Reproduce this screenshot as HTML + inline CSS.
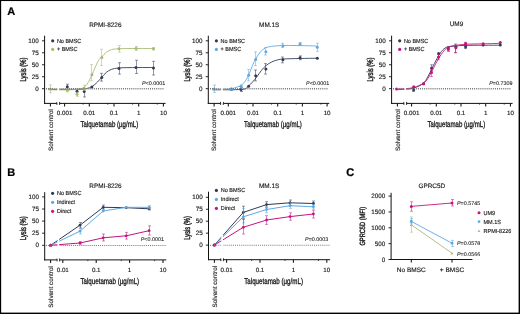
<!DOCTYPE html><html><head><meta charset="utf-8"><style>html,body{margin:0;padding:0;background:#fff;width:520px;height:314px;overflow:hidden}svg{display:block;will-change:transform;text-rendering:geometricPrecision}</style></head><body><svg width="520" height="314" viewBox="0 0 520 314" font-family='"Liberation Sans", sans-serif'>
<rect x="0" y="0" width="520" height="314" fill="#fff"/>
<text x="7.20" y="15.20" font-size="11.0" text-anchor="start" fill="#000" font-weight="bold" stroke="#000" stroke-width="0.2">A</text>
<text x="7.20" y="176.00" font-size="11.0" text-anchor="start" fill="#000" font-weight="bold" stroke="#000" stroke-width="0.2">B</text>
<text x="346.30" y="176.30" font-size="11.0" text-anchor="start" fill="#000" font-weight="bold" stroke="#000" stroke-width="0.25">C</text>
<text x="105.30" y="26.60" font-size="6.4" text-anchor="middle" fill="#1a1a1a" stroke="#1a1a1a" stroke-width="0.15">RPMI-8226</text>
<line x1="44.60" y1="35.70" x2="44.60" y2="103.90" stroke="#111" stroke-width="1" />
<line x1="42.00" y1="88.70" x2="44.60" y2="88.70" stroke="#111" stroke-width="0.9" />
<text x="38.80" y="90.80" font-size="6.3" text-anchor="end" fill="#1a1a1a" stroke="#1a1a1a" stroke-width="0.15">0</text>
<line x1="42.00" y1="76.72" x2="44.60" y2="76.72" stroke="#111" stroke-width="0.9" />
<text x="38.80" y="78.82" font-size="6.3" text-anchor="end" fill="#1a1a1a" stroke="#1a1a1a" stroke-width="0.15">25</text>
<line x1="42.00" y1="64.75" x2="44.60" y2="64.75" stroke="#111" stroke-width="0.9" />
<text x="38.80" y="66.85" font-size="6.3" text-anchor="end" fill="#1a1a1a" stroke="#1a1a1a" stroke-width="0.15">50</text>
<line x1="42.00" y1="52.77" x2="44.60" y2="52.77" stroke="#111" stroke-width="0.9" />
<text x="38.80" y="54.88" font-size="6.3" text-anchor="end" fill="#1a1a1a" stroke="#1a1a1a" stroke-width="0.15">75</text>
<line x1="42.00" y1="40.80" x2="44.60" y2="40.80" stroke="#111" stroke-width="0.9" />
<text x="38.80" y="42.90" font-size="6.3" text-anchor="end" fill="#1a1a1a" stroke="#1a1a1a" stroke-width="0.15">100</text>
<text x="25.90" y="69.55" font-size="8.6" text-anchor="middle" fill="#1a1a1a" stroke="#1a1a1a" stroke-width="0.42" textLength="23.8" lengthAdjust="spacingAndGlyphs" transform="rotate(-90 25.90 69.55)">Lysis (%)</text>
<line x1="44.10" y1="103.40" x2="56.90" y2="103.40" stroke="#111" stroke-width="1" />
<line x1="59.60" y1="103.40" x2="165.60" y2="103.40" stroke="#111" stroke-width="1" />
<line x1="56.90" y1="101.90" x2="56.90" y2="104.90" stroke="#111" stroke-width="0.9" />
<line x1="59.60" y1="101.90" x2="59.60" y2="104.90" stroke="#111" stroke-width="0.9" />
<line x1="50.40" y1="103.40" x2="50.40" y2="106.40" stroke="#111" stroke-width="1.05" />
<line x1="64.60" y1="103.40" x2="64.60" y2="106.40" stroke="#111" stroke-width="1.05" />
<text x="64.60" y="115.00" font-size="6.2" text-anchor="middle" fill="#1a1a1a" stroke="#1a1a1a" stroke-width="0.15">0.001</text>
<line x1="83.12" y1="103.40" x2="83.12" y2="104.70" stroke="#111" stroke-width="0.7" />
<line x1="89.30" y1="103.40" x2="89.30" y2="106.40" stroke="#111" stroke-width="1.05" />
<text x="89.30" y="115.00" font-size="6.2" text-anchor="middle" fill="#1a1a1a" stroke="#1a1a1a" stroke-width="0.15">0.01</text>
<line x1="107.82" y1="103.40" x2="107.82" y2="104.70" stroke="#111" stroke-width="0.7" />
<line x1="114.00" y1="103.40" x2="114.00" y2="106.40" stroke="#111" stroke-width="1.05" />
<text x="114.00" y="115.00" font-size="6.2" text-anchor="middle" fill="#1a1a1a" stroke="#1a1a1a" stroke-width="0.15">0.1</text>
<line x1="132.53" y1="103.40" x2="132.53" y2="104.70" stroke="#111" stroke-width="0.7" />
<line x1="138.70" y1="103.40" x2="138.70" y2="106.40" stroke="#111" stroke-width="1.05" />
<text x="138.70" y="115.00" font-size="6.2" text-anchor="middle" fill="#1a1a1a" stroke="#1a1a1a" stroke-width="0.15">1</text>
<line x1="157.22" y1="103.40" x2="157.22" y2="104.70" stroke="#111" stroke-width="0.7" />
<line x1="163.40" y1="103.40" x2="163.40" y2="106.40" stroke="#111" stroke-width="1.05" />
<text x="163.40" y="115.00" font-size="6.2" text-anchor="middle" fill="#1a1a1a" stroke="#1a1a1a" stroke-width="0.15">10</text>
<text x="80.40" y="127.40" font-size="8.4" text-anchor="start" fill="#1a1a1a" stroke="#1a1a1a" stroke-width="0.32" textLength="57.8" lengthAdjust="spacingAndGlyphs">Talquetamab (µg/mL)</text>
<text x="52.70" y="130.00" font-size="6.3" text-anchor="middle" fill="#1a1a1a" stroke="#1a1a1a" stroke-width="0.15" textLength="42.0" lengthAdjust="spacingAndGlyphs" transform="rotate(-90 52.70 130.00)">Solvent control</text>
<text x="142.00" y="84.60" font-size="5.4" text-anchor="start" fill="#1a1a1a" stroke="#1a1a1a" stroke-width="0.08"><tspan font-style="italic">P</tspan>&lt;0.0001</text>
<circle cx="52.70" cy="40.80" r="1.6" fill="#303a57"/>
<text x="56.90" y="42.80" font-size="5.9" text-anchor="start" fill="#1a1a1a" stroke="#1a1a1a" stroke-width="0.15" textLength="24.449390625" lengthAdjust="spacingAndGlyphs">No BMSC</text>
<circle cx="52.70" cy="49.40" r="1.6" fill="#a6ba72"/>
<text x="56.90" y="51.40" font-size="5.9" text-anchor="start" fill="#1a1a1a" stroke="#1a1a1a" stroke-width="0.15" textLength="20.630499999999998" lengthAdjust="spacingAndGlyphs">+ BMSC</text>
<path d="M49.00,89.50 C54.17,89.45 73.52,89.42 80.00,89.20 C86.48,88.98 85.85,88.67 87.90,88.20 C89.95,87.73 90.70,87.43 92.30,86.40 C93.90,85.37 95.90,83.55 97.50,82.00 C99.10,80.45 100.43,78.70 101.90,77.10 C103.37,75.50 104.70,73.68 106.30,72.40 C107.90,71.12 109.47,70.13 111.50,69.40 C113.53,68.67 115.42,68.30 118.50,68.00 C121.58,67.70 124.17,67.68 130.00,67.60 C135.83,67.52 149.58,67.52 153.50,67.50" fill="none" stroke="#303a57" stroke-width="1.0" stroke-opacity="0.88" stroke-linecap="round"/>
<path d="M67.50,84.20V90.00M66.00,84.20H69.00M66.00,90.00H69.00" stroke="#303a57" stroke-width="0.8" stroke-opacity="0.65" fill="none"/>
<circle cx="67.30" cy="86.80" r="1.5" fill="#303a57"/>
<circle cx="77.00" cy="91.20" r="1.5" fill="#303a57"/>
<path d="M84.50,88.50V97.00M83.00,88.50H86.00M83.00,97.00H86.00" stroke="#303a57" stroke-width="0.8" stroke-opacity="0.65" fill="none"/>
<circle cx="84.20" cy="91.60" r="1.5" fill="#303a57"/>
<circle cx="91.90" cy="87.00" r="1.5" fill="#303a57"/>
<path d="M101.50,73.30V81.10M100.00,73.30H103.00M100.00,81.10H103.00" stroke="#303a57" stroke-width="0.8" stroke-opacity="0.65" fill="none"/>
<circle cx="101.80" cy="77.60" r="1.5" fill="#303a57"/>
<path d="M119.50,62.70V74.10M118.00,62.70H121.00M118.00,74.10H121.00" stroke="#303a57" stroke-width="0.8" stroke-opacity="0.65" fill="none"/>
<circle cx="119.00" cy="68.40" r="1.5" fill="#303a57"/>
<path d="M136.50,60.20V73.50M135.00,60.20H138.00M135.00,73.50H138.00" stroke="#303a57" stroke-width="0.8" stroke-opacity="0.65" fill="none"/>
<circle cx="136.00" cy="67.40" r="1.5" fill="#303a57"/>
<path d="M153.50,61.30V75.00M152.00,61.30H155.00M152.00,75.00H155.00" stroke="#303a57" stroke-width="0.8" stroke-opacity="0.65" fill="none"/>
<circle cx="153.50" cy="68.00" r="1.5" fill="#303a57"/>
<path d="M49.00,89.80 C52.50,89.80 64.83,89.97 70.00,89.80 C75.17,89.63 77.60,89.28 80.00,88.80 C82.40,88.32 83.08,87.88 84.40,86.90 C85.72,85.92 86.65,84.88 87.90,82.90 C89.15,80.92 90.73,77.48 91.90,75.00 C93.07,72.52 93.82,70.38 94.90,68.00 C95.98,65.62 97.23,62.60 98.40,60.70 C99.57,58.80 100.58,58.00 101.90,56.60 C103.22,55.20 104.70,53.47 106.30,52.30 C107.90,51.13 109.47,50.18 111.50,49.60 C113.53,49.02 115.42,48.98 118.50,48.80 C121.58,48.62 124.17,48.55 130.00,48.50 C135.83,48.45 149.58,48.50 153.50,48.50" fill="none" stroke="#a6ba72" stroke-width="1.0" stroke-opacity="0.88" stroke-linecap="round"/>
<path d="M50.50,84.90V92.80M49.00,84.90H52.00M49.00,92.80H52.00" stroke="#a6ba72" stroke-width="0.8" stroke-opacity="0.65" fill="none"/>
<circle cx="50.40" cy="89.00" r="1.5" fill="#a6ba72"/>
<path d="M67.50,88.50V92.00M66.00,88.50H69.00M66.00,92.00H69.00" stroke="#a6ba72" stroke-width="0.8" stroke-opacity="0.65" fill="none"/>
<circle cx="67.30" cy="90.20" r="1.5" fill="#a6ba72"/>
<path d="M77.50,92.30V96.30M76.00,92.30H79.00M76.00,96.30H79.00" stroke="#a6ba72" stroke-width="0.8" stroke-opacity="0.65" fill="none"/>
<circle cx="77.00" cy="94.20" r="1.5" fill="#a6ba72"/>
<path d="M84.50,85.20V90.60M83.00,85.20H86.00M83.00,90.60H86.00" stroke="#a6ba72" stroke-width="0.8" stroke-opacity="0.65" fill="none"/>
<circle cx="84.20" cy="88.30" r="1.5" fill="#a6ba72"/>
<path d="M91.50,64.60V80.80M90.00,64.60H93.00M90.00,80.80H93.00" stroke="#a6ba72" stroke-width="0.8" stroke-opacity="0.65" fill="none"/>
<circle cx="91.90" cy="74.70" r="1.5" fill="#a6ba72"/>
<path d="M101.50,49.30V65.50M100.00,49.30H103.00M100.00,65.50H103.00" stroke="#a6ba72" stroke-width="0.8" stroke-opacity="0.65" fill="none"/>
<circle cx="101.80" cy="57.50" r="1.5" fill="#a6ba72"/>
<path d="M119.50,45.50V52.20M118.00,45.50H121.00M118.00,52.20H121.00" stroke="#a6ba72" stroke-width="0.8" stroke-opacity="0.65" fill="none"/>
<circle cx="119.00" cy="48.70" r="1.5" fill="#a6ba72"/>
<path d="M136.50,46.50V50.30M135.00,46.50H138.00M135.00,50.30H138.00" stroke="#a6ba72" stroke-width="0.8" stroke-opacity="0.65" fill="none"/>
<circle cx="136.00" cy="48.40" r="1.5" fill="#a6ba72"/>
<path d="M153.50,47.60V49.90M152.00,47.60H155.00M152.00,49.90H155.00" stroke="#a6ba72" stroke-width="0.8" stroke-opacity="0.65" fill="none"/>
<circle cx="153.50" cy="48.70" r="1.5" fill="#a6ba72"/>
<path d="M46.00,88.00h1v1.4h-1zM48.08,88.00h1v1.4h-1zM50.16,88.00h1v1.4h-1zM52.24,88.00h1v1.4h-1zM54.32,88.00h1v1.4h-1zM56.40,88.00h1v1.4h-1zM58.48,88.00h1v1.4h-1zM60.56,88.00h1v1.4h-1zM62.64,88.00h1v1.4h-1zM64.72,88.00h1v1.4h-1zM66.80,88.00h1v1.4h-1zM68.88,88.00h1v1.4h-1zM70.96,88.00h1v1.4h-1zM73.04,88.00h1v1.4h-1zM75.12,88.00h1v1.4h-1zM77.20,88.00h1v1.4h-1zM79.28,88.00h1v1.4h-1zM81.36,88.00h1v1.4h-1zM83.44,88.00h1v1.4h-1zM85.52,88.00h1v1.4h-1zM87.60,88.00h1v1.4h-1zM89.68,88.00h1v1.4h-1zM91.76,88.00h1v1.4h-1zM93.84,88.00h1v1.4h-1zM95.92,88.00h1v1.4h-1zM98.00,88.00h1v1.4h-1zM100.08,88.00h1v1.4h-1zM102.16,88.00h1v1.4h-1zM104.24,88.00h1v1.4h-1zM106.32,88.00h1v1.4h-1zM108.40,88.00h1v1.4h-1zM110.48,88.00h1v1.4h-1zM112.56,88.00h1v1.4h-1zM114.64,88.00h1v1.4h-1zM116.72,88.00h1v1.4h-1zM118.80,88.00h1v1.4h-1zM120.88,88.00h1v1.4h-1zM122.96,88.00h1v1.4h-1zM125.04,88.00h1v1.4h-1zM127.12,88.00h1v1.4h-1zM129.20,88.00h1v1.4h-1zM131.28,88.00h1v1.4h-1zM133.36,88.00h1v1.4h-1zM135.44,88.00h1v1.4h-1zM137.52,88.00h1v1.4h-1zM139.60,88.00h1v1.4h-1zM141.68,88.00h1v1.4h-1zM143.76,88.00h1v1.4h-1zM145.84,88.00h1v1.4h-1zM147.92,88.00h1v1.4h-1zM150.00,88.00h1v1.4h-1zM152.08,88.00h1v1.4h-1zM154.16,88.00h1v1.4h-1zM156.24,88.00h1v1.4h-1zM158.32,88.00h1v1.4h-1zM160.40,88.00h1v1.4h-1zM162.48,88.00h1v1.4h-1z" fill="#777"/>
<rect x="57.40" y="76.70" width="1.70" height="26.10" fill="#fff"/>
<text x="269.20" y="26.60" font-size="6.4" text-anchor="middle" fill="#1a1a1a" stroke="#1a1a1a" stroke-width="0.15">MM.1S</text>
<line x1="208.30" y1="35.70" x2="208.30" y2="103.90" stroke="#111" stroke-width="1" />
<line x1="205.70" y1="88.70" x2="208.30" y2="88.70" stroke="#111" stroke-width="0.9" />
<text x="202.50" y="90.80" font-size="6.3" text-anchor="end" fill="#1a1a1a" stroke="#1a1a1a" stroke-width="0.15">0</text>
<line x1="205.70" y1="76.72" x2="208.30" y2="76.72" stroke="#111" stroke-width="0.9" />
<text x="202.50" y="78.82" font-size="6.3" text-anchor="end" fill="#1a1a1a" stroke="#1a1a1a" stroke-width="0.15">25</text>
<line x1="205.70" y1="64.75" x2="208.30" y2="64.75" stroke="#111" stroke-width="0.9" />
<text x="202.50" y="66.85" font-size="6.3" text-anchor="end" fill="#1a1a1a" stroke="#1a1a1a" stroke-width="0.15">50</text>
<line x1="205.70" y1="52.77" x2="208.30" y2="52.77" stroke="#111" stroke-width="0.9" />
<text x="202.50" y="54.88" font-size="6.3" text-anchor="end" fill="#1a1a1a" stroke="#1a1a1a" stroke-width="0.15">75</text>
<line x1="205.70" y1="40.80" x2="208.30" y2="40.80" stroke="#111" stroke-width="0.9" />
<text x="202.50" y="42.90" font-size="6.3" text-anchor="end" fill="#1a1a1a" stroke="#1a1a1a" stroke-width="0.15">100</text>
<text x="189.60" y="69.55" font-size="8.6" text-anchor="middle" fill="#1a1a1a" stroke="#1a1a1a" stroke-width="0.42" textLength="23.8" lengthAdjust="spacingAndGlyphs" transform="rotate(-90 189.60 69.55)">Lysis (%)</text>
<line x1="207.80" y1="103.40" x2="220.60" y2="103.40" stroke="#111" stroke-width="1" />
<line x1="223.30" y1="103.40" x2="329.30" y2="103.40" stroke="#111" stroke-width="1" />
<line x1="220.60" y1="101.90" x2="220.60" y2="104.90" stroke="#111" stroke-width="0.9" />
<line x1="223.30" y1="101.90" x2="223.30" y2="104.90" stroke="#111" stroke-width="0.9" />
<line x1="214.10" y1="103.40" x2="214.10" y2="106.40" stroke="#111" stroke-width="1.05" />
<line x1="228.30" y1="103.40" x2="228.30" y2="106.40" stroke="#111" stroke-width="1.05" />
<text x="228.30" y="115.00" font-size="6.2" text-anchor="middle" fill="#1a1a1a" stroke="#1a1a1a" stroke-width="0.15">0.001</text>
<line x1="246.83" y1="103.40" x2="246.83" y2="104.70" stroke="#111" stroke-width="0.7" />
<line x1="253.00" y1="103.40" x2="253.00" y2="106.40" stroke="#111" stroke-width="1.05" />
<text x="253.00" y="115.00" font-size="6.2" text-anchor="middle" fill="#1a1a1a" stroke="#1a1a1a" stroke-width="0.15">0.01</text>
<line x1="271.52" y1="103.40" x2="271.52" y2="104.70" stroke="#111" stroke-width="0.7" />
<line x1="277.70" y1="103.40" x2="277.70" y2="106.40" stroke="#111" stroke-width="1.05" />
<text x="277.70" y="115.00" font-size="6.2" text-anchor="middle" fill="#1a1a1a" stroke="#1a1a1a" stroke-width="0.15">0.1</text>
<line x1="296.22" y1="103.40" x2="296.22" y2="104.70" stroke="#111" stroke-width="0.7" />
<line x1="302.40" y1="103.40" x2="302.40" y2="106.40" stroke="#111" stroke-width="1.05" />
<text x="302.40" y="115.00" font-size="6.2" text-anchor="middle" fill="#1a1a1a" stroke="#1a1a1a" stroke-width="0.15">1</text>
<line x1="320.92" y1="103.40" x2="320.92" y2="104.70" stroke="#111" stroke-width="0.7" />
<line x1="327.10" y1="103.40" x2="327.10" y2="106.40" stroke="#111" stroke-width="1.05" />
<text x="327.10" y="115.00" font-size="6.2" text-anchor="middle" fill="#1a1a1a" stroke="#1a1a1a" stroke-width="0.15">10</text>
<text x="244.10" y="127.40" font-size="8.4" text-anchor="start" fill="#1a1a1a" stroke="#1a1a1a" stroke-width="0.32" textLength="57.8" lengthAdjust="spacingAndGlyphs">Talquetamab (µg/mL)</text>
<text x="216.40" y="130.00" font-size="6.3" text-anchor="middle" fill="#1a1a1a" stroke="#1a1a1a" stroke-width="0.15" textLength="42.0" lengthAdjust="spacingAndGlyphs" transform="rotate(-90 216.40 130.00)">Solvent control</text>
<text x="306.10" y="84.60" font-size="5.4" text-anchor="start" fill="#1a1a1a" stroke="#1a1a1a" stroke-width="0.08"><tspan font-style="italic">P</tspan>&lt;0.0001</text>
<circle cx="216.40" cy="40.80" r="1.6" fill="#303a57"/>
<text x="220.60" y="42.80" font-size="5.9" text-anchor="start" fill="#1a1a1a" stroke="#1a1a1a" stroke-width="0.15" textLength="24.449390625" lengthAdjust="spacingAndGlyphs">No BMSC</text>
<circle cx="216.40" cy="49.40" r="1.6" fill="#5ea9e3"/>
<text x="220.60" y="51.40" font-size="5.9" text-anchor="start" fill="#1a1a1a" stroke="#1a1a1a" stroke-width="0.15" textLength="20.630499999999998" lengthAdjust="spacingAndGlyphs">+ BMSC</text>
<path d="M213.00,89.80 C217.83,89.73 236.15,89.97 242.00,89.40 C247.85,88.83 246.35,87.63 248.10,86.40 C249.85,85.17 251.03,83.60 252.50,82.00 C253.97,80.40 255.43,78.70 256.90,76.80 C258.37,74.90 259.85,72.42 261.30,70.60 C262.75,68.78 263.85,67.35 265.60,65.90 C267.35,64.45 269.60,62.95 271.80,61.90 C274.00,60.85 276.62,60.10 278.80,59.60 C280.98,59.10 281.37,59.08 284.90,58.90 C288.43,58.72 294.60,58.62 300.00,58.50 C305.40,58.38 314.42,58.25 317.30,58.20" fill="none" stroke="#303a57" stroke-width="1.0" stroke-opacity="0.88" stroke-linecap="round"/>
<circle cx="231.40" cy="89.30" r="1.5" fill="#303a57"/>
<path d="M241.50,87.50V91.50M240.00,87.50H243.00M240.00,91.50H243.00" stroke="#303a57" stroke-width="0.8" stroke-opacity="0.65" fill="none"/>
<circle cx="241.00" cy="89.50" r="1.5" fill="#303a57"/>
<circle cx="248.60" cy="86.20" r="1.5" fill="#303a57"/>
<path d="M255.50,70.00V80.90M254.00,70.00H257.00M254.00,80.90H257.00" stroke="#303a57" stroke-width="0.8" stroke-opacity="0.65" fill="none"/>
<circle cx="255.70" cy="75.70" r="1.5" fill="#303a57"/>
<path d="M265.50,63.60V74.10M264.00,63.60H267.00M264.00,74.10H267.00" stroke="#303a57" stroke-width="0.8" stroke-opacity="0.65" fill="none"/>
<circle cx="265.90" cy="69.00" r="1.5" fill="#303a57"/>
<path d="M282.50,57.00V62.80M281.00,57.00H284.00M281.00,62.80H284.00" stroke="#303a57" stroke-width="0.8" stroke-opacity="0.65" fill="none"/>
<circle cx="282.90" cy="59.70" r="1.5" fill="#303a57"/>
<path d="M300.50,55.90V59.70M299.00,55.90H302.00M299.00,59.70H302.00" stroke="#303a57" stroke-width="0.8" stroke-opacity="0.65" fill="none"/>
<circle cx="300.00" cy="57.80" r="1.5" fill="#303a57"/>
<circle cx="317.30" cy="58.20" r="1.5" fill="#303a57"/>
<path d="M213.00,89.50 C215.83,89.45 226.33,89.52 230.00,89.20 C233.67,88.88 233.28,88.15 235.00,87.60 C236.72,87.05 238.70,86.83 240.30,85.90 C241.90,84.97 243.20,83.82 244.60,82.00 C246.00,80.18 247.38,77.77 248.70,75.00 C250.02,72.23 251.28,68.17 252.50,65.40 C253.72,62.63 254.68,60.65 256.00,58.40 C257.32,56.15 258.80,53.65 260.40,51.90 C262.00,50.15 263.42,48.87 265.60,47.90 C267.78,46.93 270.28,46.50 273.50,46.10 C276.72,45.70 280.48,45.58 284.90,45.50 C289.32,45.42 294.60,45.52 300.00,45.60 C305.40,45.68 314.42,45.93 317.30,46.00" fill="none" stroke="#5ea9e3" stroke-width="1.0" stroke-opacity="0.88" stroke-linecap="round"/>
<path d="M214.50,85.00V92.40M213.00,85.00H216.00M213.00,92.40H216.00" stroke="#5ea9e3" stroke-width="0.8" stroke-opacity="0.65" fill="none"/>
<circle cx="214.10" cy="89.10" r="1.5" fill="#5ea9e3"/>
<path d="M231.50,88.00V90.00M230.00,88.00H233.00M230.00,90.00H233.00" stroke="#5ea9e3" stroke-width="0.8" stroke-opacity="0.65" fill="none"/>
<circle cx="231.40" cy="89.00" r="1.5" fill="#5ea9e3"/>
<path d="M241.50,85.00V87.50M240.00,85.00H243.00M240.00,87.50H243.00" stroke="#5ea9e3" stroke-width="0.8" stroke-opacity="0.65" fill="none"/>
<circle cx="241.00" cy="86.20" r="1.5" fill="#5ea9e3"/>
<path d="M248.50,69.40V80.90M247.00,69.40H250.00M247.00,80.90H250.00" stroke="#5ea9e3" stroke-width="0.8" stroke-opacity="0.65" fill="none"/>
<circle cx="248.60" cy="75.20" r="1.5" fill="#5ea9e3"/>
<path d="M255.50,51.80V65.60M254.00,51.80H257.00M254.00,65.60H257.00" stroke="#5ea9e3" stroke-width="0.8" stroke-opacity="0.65" fill="none"/>
<circle cx="255.70" cy="59.50" r="1.5" fill="#5ea9e3"/>
<path d="M265.50,47.40V55.00M264.00,47.40H267.00M264.00,55.00H267.00" stroke="#5ea9e3" stroke-width="0.8" stroke-opacity="0.65" fill="none"/>
<circle cx="265.90" cy="51.80" r="1.5" fill="#5ea9e3"/>
<path d="M282.50,43.20V47.50M281.00,43.20H284.00M281.00,47.50H284.00" stroke="#5ea9e3" stroke-width="0.8" stroke-opacity="0.65" fill="none"/>
<circle cx="282.90" cy="45.80" r="1.5" fill="#5ea9e3"/>
<path d="M300.50,42.60V45.20M299.00,42.60H302.00M299.00,45.20H302.00" stroke="#5ea9e3" stroke-width="0.8" stroke-opacity="0.65" fill="none"/>
<circle cx="300.00" cy="44.00" r="1.5" fill="#5ea9e3"/>
<path d="M317.50,43.20V51.30M316.00,43.20H319.00M316.00,51.30H319.00" stroke="#5ea9e3" stroke-width="0.8" stroke-opacity="0.65" fill="none"/>
<circle cx="317.30" cy="47.20" r="1.5" fill="#5ea9e3"/>
<path d="M210.00,88.00h1v1.4h-1zM212.08,88.00h1v1.4h-1zM214.16,88.00h1v1.4h-1zM216.24,88.00h1v1.4h-1zM218.32,88.00h1v1.4h-1zM220.40,88.00h1v1.4h-1zM222.48,88.00h1v1.4h-1zM224.56,88.00h1v1.4h-1zM226.64,88.00h1v1.4h-1zM228.72,88.00h1v1.4h-1zM230.80,88.00h1v1.4h-1zM232.88,88.00h1v1.4h-1zM234.96,88.00h1v1.4h-1zM237.04,88.00h1v1.4h-1zM239.12,88.00h1v1.4h-1zM241.20,88.00h1v1.4h-1zM243.28,88.00h1v1.4h-1zM245.36,88.00h1v1.4h-1zM247.44,88.00h1v1.4h-1zM249.52,88.00h1v1.4h-1zM251.60,88.00h1v1.4h-1zM253.68,88.00h1v1.4h-1zM255.76,88.00h1v1.4h-1zM257.84,88.00h1v1.4h-1zM259.92,88.00h1v1.4h-1zM262.00,88.00h1v1.4h-1zM264.08,88.00h1v1.4h-1zM266.16,88.00h1v1.4h-1zM268.24,88.00h1v1.4h-1zM270.32,88.00h1v1.4h-1zM272.40,88.00h1v1.4h-1zM274.48,88.00h1v1.4h-1zM276.56,88.00h1v1.4h-1zM278.64,88.00h1v1.4h-1zM280.72,88.00h1v1.4h-1zM282.80,88.00h1v1.4h-1zM284.88,88.00h1v1.4h-1zM286.96,88.00h1v1.4h-1zM289.04,88.00h1v1.4h-1zM291.12,88.00h1v1.4h-1zM293.20,88.00h1v1.4h-1zM295.28,88.00h1v1.4h-1zM297.36,88.00h1v1.4h-1zM299.44,88.00h1v1.4h-1zM301.52,88.00h1v1.4h-1zM303.60,88.00h1v1.4h-1zM305.68,88.00h1v1.4h-1zM307.76,88.00h1v1.4h-1zM309.84,88.00h1v1.4h-1zM311.92,88.00h1v1.4h-1zM314.00,88.00h1v1.4h-1zM316.08,88.00h1v1.4h-1zM318.16,88.00h1v1.4h-1zM320.24,88.00h1v1.4h-1zM322.32,88.00h1v1.4h-1zM324.40,88.00h1v1.4h-1zM326.48,88.00h1v1.4h-1z" fill="#777"/>
<rect x="221.10" y="76.70" width="1.70" height="26.10" fill="#fff"/>
<text x="456.50" y="26.00" font-size="6.4" text-anchor="middle" fill="#1a1a1a" stroke="#1a1a1a" stroke-width="0.15">UM9</text>
<line x1="391.60" y1="35.70" x2="391.60" y2="103.90" stroke="#111" stroke-width="1" />
<line x1="389.00" y1="88.70" x2="391.60" y2="88.70" stroke="#111" stroke-width="0.9" />
<text x="385.80" y="90.80" font-size="6.3" text-anchor="end" fill="#1a1a1a" stroke="#1a1a1a" stroke-width="0.15">0</text>
<line x1="389.00" y1="76.72" x2="391.60" y2="76.72" stroke="#111" stroke-width="0.9" />
<text x="385.80" y="78.82" font-size="6.3" text-anchor="end" fill="#1a1a1a" stroke="#1a1a1a" stroke-width="0.15">25</text>
<line x1="389.00" y1="64.75" x2="391.60" y2="64.75" stroke="#111" stroke-width="0.9" />
<text x="385.80" y="66.85" font-size="6.3" text-anchor="end" fill="#1a1a1a" stroke="#1a1a1a" stroke-width="0.15">50</text>
<line x1="389.00" y1="52.77" x2="391.60" y2="52.77" stroke="#111" stroke-width="0.9" />
<text x="385.80" y="54.88" font-size="6.3" text-anchor="end" fill="#1a1a1a" stroke="#1a1a1a" stroke-width="0.15">75</text>
<line x1="389.00" y1="40.80" x2="391.60" y2="40.80" stroke="#111" stroke-width="0.9" />
<text x="385.80" y="42.90" font-size="6.3" text-anchor="end" fill="#1a1a1a" stroke="#1a1a1a" stroke-width="0.15">100</text>
<text x="372.90" y="69.55" font-size="8.6" text-anchor="middle" fill="#1a1a1a" stroke="#1a1a1a" stroke-width="0.42" textLength="23.8" lengthAdjust="spacingAndGlyphs" transform="rotate(-90 372.90 69.55)">Lysis (%)</text>
<line x1="391.10" y1="103.40" x2="403.90" y2="103.40" stroke="#111" stroke-width="1" />
<line x1="406.60" y1="103.40" x2="512.60" y2="103.40" stroke="#111" stroke-width="1" />
<line x1="403.90" y1="101.90" x2="403.90" y2="104.90" stroke="#111" stroke-width="0.9" />
<line x1="406.60" y1="101.90" x2="406.60" y2="104.90" stroke="#111" stroke-width="0.9" />
<line x1="397.40" y1="103.40" x2="397.40" y2="106.40" stroke="#111" stroke-width="1.05" />
<line x1="411.60" y1="103.40" x2="411.60" y2="106.40" stroke="#111" stroke-width="1.05" />
<text x="411.60" y="115.00" font-size="6.2" text-anchor="middle" fill="#1a1a1a" stroke="#1a1a1a" stroke-width="0.15">0.001</text>
<line x1="430.12" y1="103.40" x2="430.12" y2="104.70" stroke="#111" stroke-width="0.7" />
<line x1="436.30" y1="103.40" x2="436.30" y2="106.40" stroke="#111" stroke-width="1.05" />
<text x="436.30" y="115.00" font-size="6.2" text-anchor="middle" fill="#1a1a1a" stroke="#1a1a1a" stroke-width="0.15">0.01</text>
<line x1="454.82" y1="103.40" x2="454.82" y2="104.70" stroke="#111" stroke-width="0.7" />
<line x1="461.00" y1="103.40" x2="461.00" y2="106.40" stroke="#111" stroke-width="1.05" />
<text x="461.00" y="115.00" font-size="6.2" text-anchor="middle" fill="#1a1a1a" stroke="#1a1a1a" stroke-width="0.15">0.1</text>
<line x1="479.52" y1="103.40" x2="479.52" y2="104.70" stroke="#111" stroke-width="0.7" />
<line x1="485.70" y1="103.40" x2="485.70" y2="106.40" stroke="#111" stroke-width="1.05" />
<text x="485.70" y="115.00" font-size="6.2" text-anchor="middle" fill="#1a1a1a" stroke="#1a1a1a" stroke-width="0.15">1</text>
<line x1="504.23" y1="103.40" x2="504.23" y2="104.70" stroke="#111" stroke-width="0.7" />
<line x1="510.40" y1="103.40" x2="510.40" y2="106.40" stroke="#111" stroke-width="1.05" />
<text x="510.40" y="115.00" font-size="6.2" text-anchor="middle" fill="#1a1a1a" stroke="#1a1a1a" stroke-width="0.15">10</text>
<text x="427.40" y="127.40" font-size="8.4" text-anchor="start" fill="#1a1a1a" stroke="#1a1a1a" stroke-width="0.32" textLength="57.8" lengthAdjust="spacingAndGlyphs">Talquetamab (µg/mL)</text>
<text x="399.70" y="130.00" font-size="6.3" text-anchor="middle" fill="#1a1a1a" stroke="#1a1a1a" stroke-width="0.15" textLength="42.0" lengthAdjust="spacingAndGlyphs" transform="rotate(-90 399.70 130.00)">Solvent control</text>
<text x="489.20" y="84.60" font-size="5.4" text-anchor="start" fill="#1a1a1a" stroke="#1a1a1a" stroke-width="0.08"><tspan font-style="italic">P</tspan>=0.7309</text>
<circle cx="399.70" cy="40.80" r="1.6" fill="#303a57"/>
<text x="403.90" y="42.80" font-size="5.9" text-anchor="start" fill="#1a1a1a" stroke="#1a1a1a" stroke-width="0.15" textLength="24.449390625" lengthAdjust="spacingAndGlyphs">No BMSC</text>
<circle cx="399.70" cy="49.40" r="1.6" fill="#c7127f"/>
<text x="403.90" y="51.40" font-size="5.9" text-anchor="start" fill="#1a1a1a" stroke="#1a1a1a" stroke-width="0.15" textLength="20.630499999999998" lengthAdjust="spacingAndGlyphs">+ BMSC</text>
<path d="M396.00,89.40 C397.50,89.37 401.98,89.43 405.00,89.20 C408.02,88.97 411.08,88.95 414.10,88.00 C417.12,87.05 420.83,85.33 423.10,83.50 C425.37,81.67 426.18,79.58 427.70,77.00 C429.22,74.42 430.68,71.02 432.20,68.00 C433.72,64.98 435.28,61.63 436.80,58.90 C438.32,56.17 439.65,53.57 441.30,51.60 C442.95,49.63 444.58,48.00 446.70,47.10 C448.82,46.20 450.85,46.48 454.00,46.20 C457.15,45.92 457.95,45.57 465.60,45.40 C473.25,45.23 494.18,45.23 499.90,45.20" fill="none" stroke="#303a57" stroke-width="1.0" stroke-opacity="0.88" stroke-linecap="round"/>
<path d="M413.50,87.50V91.50M412.00,87.50H415.00M412.00,91.50H415.00" stroke="#303a57" stroke-width="0.8" stroke-opacity="0.65" fill="none"/>
<circle cx="413.70" cy="89.70" r="1.5" fill="#303a57"/>
<circle cx="423.60" cy="83.80" r="1.5" fill="#303a57"/>
<path d="M431.50,64.80V71.00M430.00,64.80H433.00M430.00,71.00H433.00" stroke="#303a57" stroke-width="0.8" stroke-opacity="0.65" fill="none"/>
<circle cx="431.50" cy="68.20" r="1.5" fill="#303a57"/>
<circle cx="438.60" cy="53.40" r="1.5" fill="#303a57"/>
<circle cx="448.30" cy="48.00" r="1.5" fill="#303a57"/>
<path d="M455.50,44.00V52.80M454.00,44.00H457.00M454.00,52.80H457.00" stroke="#303a57" stroke-width="0.8" stroke-opacity="0.65" fill="none"/>
<circle cx="455.90" cy="47.00" r="1.5" fill="#303a57"/>
<path d="M465.50,44.50V48.50M464.00,44.50H467.00M464.00,48.50H467.00" stroke="#303a57" stroke-width="0.8" stroke-opacity="0.65" fill="none"/>
<circle cx="465.60" cy="46.80" r="1.5" fill="#303a57"/>
<circle cx="483.10" cy="45.00" r="1.5" fill="#303a57"/>
<circle cx="500.30" cy="45.00" r="1.5" fill="#303a57"/>
<path d="M396.00,89.20 C397.50,89.13 401.98,89.10 405.00,88.80 C408.02,88.50 411.08,88.30 414.10,87.40 C417.12,86.50 420.83,84.83 423.10,83.40 C425.37,81.97 426.18,80.92 427.70,78.80 C429.22,76.68 430.68,73.57 432.20,70.70 C433.72,67.83 435.28,64.33 436.80,61.60 C438.32,58.87 439.65,56.55 441.30,54.30 C442.95,52.05 444.67,49.53 446.70,48.10 C448.73,46.67 450.35,46.33 453.50,45.70 C456.65,45.07 460.67,44.62 465.60,44.30 C470.53,43.98 477.38,43.95 483.10,43.80 C488.82,43.65 497.10,43.47 499.90,43.40" fill="none" stroke="#c7127f" stroke-width="1.0" stroke-opacity="0.88" stroke-linecap="round"/>
<circle cx="396.70" cy="89.10" r="1.5" fill="#c7127f"/>
<circle cx="413.70" cy="86.80" r="1.5" fill="#c7127f"/>
<circle cx="423.60" cy="83.80" r="1.5" fill="#c7127f"/>
<path d="M431.50,68.50V76.50M430.00,68.50H433.00M430.00,76.50H433.00" stroke="#c7127f" stroke-width="0.8" stroke-opacity="0.65" fill="none"/>
<circle cx="431.50" cy="72.60" r="1.5" fill="#c7127f"/>
<path d="M438.50,54.50V59.80M437.00,54.50H440.00M437.00,59.80H440.00" stroke="#c7127f" stroke-width="0.8" stroke-opacity="0.65" fill="none"/>
<circle cx="438.60" cy="57.00" r="1.5" fill="#c7127f"/>
<path d="M448.50,47.40V51.50M447.00,47.40H450.00M447.00,51.50H450.00" stroke="#c7127f" stroke-width="0.8" stroke-opacity="0.65" fill="none"/>
<circle cx="448.30" cy="49.50" r="1.5" fill="#c7127f"/>
<path d="M455.50,45.30V52.50M454.00,45.30H457.00M454.00,52.50H457.00" stroke="#c7127f" stroke-width="0.8" stroke-opacity="0.65" fill="none"/>
<circle cx="455.90" cy="47.80" r="1.5" fill="#c7127f"/>
<path d="M465.50,42.30V45.00M464.00,42.30H467.00M464.00,45.00H467.00" stroke="#c7127f" stroke-width="0.8" stroke-opacity="0.65" fill="none"/>
<circle cx="465.60" cy="43.40" r="1.5" fill="#c7127f"/>
<circle cx="483.10" cy="43.80" r="1.5" fill="#c7127f"/>
<circle cx="500.30" cy="42.50" r="1.5" fill="#c7127f"/>
<path d="M393.00,88.00h1v1.4h-1zM395.08,88.00h1v1.4h-1zM397.16,88.00h1v1.4h-1zM399.24,88.00h1v1.4h-1zM401.32,88.00h1v1.4h-1zM403.40,88.00h1v1.4h-1zM405.48,88.00h1v1.4h-1zM407.56,88.00h1v1.4h-1zM409.64,88.00h1v1.4h-1zM411.72,88.00h1v1.4h-1zM413.80,88.00h1v1.4h-1zM415.88,88.00h1v1.4h-1zM417.96,88.00h1v1.4h-1zM420.04,88.00h1v1.4h-1zM422.12,88.00h1v1.4h-1zM424.20,88.00h1v1.4h-1zM426.28,88.00h1v1.4h-1zM428.36,88.00h1v1.4h-1zM430.44,88.00h1v1.4h-1zM432.52,88.00h1v1.4h-1zM434.60,88.00h1v1.4h-1zM436.68,88.00h1v1.4h-1zM438.76,88.00h1v1.4h-1zM440.84,88.00h1v1.4h-1zM442.92,88.00h1v1.4h-1zM445.00,88.00h1v1.4h-1zM447.08,88.00h1v1.4h-1zM449.16,88.00h1v1.4h-1zM451.24,88.00h1v1.4h-1zM453.32,88.00h1v1.4h-1zM455.40,88.00h1v1.4h-1zM457.48,88.00h1v1.4h-1zM459.56,88.00h1v1.4h-1zM461.64,88.00h1v1.4h-1zM463.72,88.00h1v1.4h-1zM465.80,88.00h1v1.4h-1zM467.88,88.00h1v1.4h-1zM469.96,88.00h1v1.4h-1zM472.04,88.00h1v1.4h-1zM474.12,88.00h1v1.4h-1zM476.20,88.00h1v1.4h-1zM478.28,88.00h1v1.4h-1zM480.36,88.00h1v1.4h-1zM482.44,88.00h1v1.4h-1zM484.52,88.00h1v1.4h-1zM486.60,88.00h1v1.4h-1zM488.68,88.00h1v1.4h-1zM490.76,88.00h1v1.4h-1zM492.84,88.00h1v1.4h-1zM494.92,88.00h1v1.4h-1zM497.00,88.00h1v1.4h-1zM499.08,88.00h1v1.4h-1zM501.16,88.00h1v1.4h-1zM503.24,88.00h1v1.4h-1zM505.32,88.00h1v1.4h-1zM507.40,88.00h1v1.4h-1zM509.48,88.00h1v1.4h-1z" fill="#777"/>
<rect x="404.40" y="76.70" width="1.70" height="26.10" fill="#fff"/>
<text x="105.50" y="187.90" font-size="6.4" text-anchor="middle" fill="#1a1a1a" stroke="#1a1a1a" stroke-width="0.15">RPMI-8226</text>
<line x1="44.70" y1="192.20" x2="44.70" y2="260.40" stroke="#111" stroke-width="1" />
<line x1="42.10" y1="245.30" x2="44.70" y2="245.30" stroke="#111" stroke-width="0.9" />
<text x="38.90" y="247.40" font-size="6.3" text-anchor="end" fill="#1a1a1a" stroke="#1a1a1a" stroke-width="0.15">0</text>
<line x1="42.10" y1="233.20" x2="44.70" y2="233.20" stroke="#111" stroke-width="0.9" />
<text x="38.90" y="235.30" font-size="6.3" text-anchor="end" fill="#1a1a1a" stroke="#1a1a1a" stroke-width="0.15">25</text>
<line x1="42.10" y1="221.10" x2="44.70" y2="221.10" stroke="#111" stroke-width="0.9" />
<text x="38.90" y="223.20" font-size="6.3" text-anchor="end" fill="#1a1a1a" stroke="#1a1a1a" stroke-width="0.15">50</text>
<line x1="42.10" y1="209.00" x2="44.70" y2="209.00" stroke="#111" stroke-width="0.9" />
<text x="38.90" y="211.10" font-size="6.3" text-anchor="end" fill="#1a1a1a" stroke="#1a1a1a" stroke-width="0.15">75</text>
<line x1="42.10" y1="196.90" x2="44.70" y2="196.90" stroke="#111" stroke-width="0.9" />
<text x="38.90" y="199.00" font-size="6.3" text-anchor="end" fill="#1a1a1a" stroke="#1a1a1a" stroke-width="0.15">100</text>
<text x="26.00" y="228.25" font-size="8.6" text-anchor="middle" fill="#1a1a1a" stroke="#1a1a1a" stroke-width="0.42" textLength="23.8" lengthAdjust="spacingAndGlyphs" transform="rotate(-90 26.00 228.25)">Lysis (%)</text>
<line x1="44.20" y1="259.90" x2="57.10" y2="259.90" stroke="#111" stroke-width="1" />
<line x1="59.60" y1="259.90" x2="166.30" y2="259.90" stroke="#111" stroke-width="1" />
<line x1="57.10" y1="258.40" x2="57.10" y2="261.40" stroke="#111" stroke-width="0.9" />
<line x1="59.60" y1="258.40" x2="59.60" y2="261.40" stroke="#111" stroke-width="0.9" />
<line x1="50.60" y1="259.90" x2="50.60" y2="262.90" stroke="#111" stroke-width="1.05" />
<line x1="62.80" y1="259.90" x2="62.80" y2="262.90" stroke="#111" stroke-width="1.05" />
<text x="62.80" y="271.80" font-size="6.2" text-anchor="middle" fill="#1a1a1a" stroke="#1a1a1a" stroke-width="0.15">0.01</text>
<line x1="87.85" y1="259.90" x2="87.85" y2="261.20" stroke="#111" stroke-width="0.7" />
<line x1="96.20" y1="259.90" x2="96.20" y2="262.90" stroke="#111" stroke-width="1.05" />
<text x="96.20" y="271.80" font-size="6.2" text-anchor="middle" fill="#1a1a1a" stroke="#1a1a1a" stroke-width="0.15">0.1</text>
<line x1="121.25" y1="259.90" x2="121.25" y2="261.20" stroke="#111" stroke-width="0.7" />
<line x1="129.60" y1="259.90" x2="129.60" y2="262.90" stroke="#111" stroke-width="1.05" />
<text x="129.60" y="271.80" font-size="6.2" text-anchor="middle" fill="#1a1a1a" stroke="#1a1a1a" stroke-width="0.15">1</text>
<line x1="154.65" y1="259.90" x2="154.65" y2="261.20" stroke="#111" stroke-width="0.7" />
<line x1="163.00" y1="259.90" x2="163.00" y2="262.90" stroke="#111" stroke-width="1.05" />
<text x="163.00" y="271.80" font-size="6.2" text-anchor="middle" fill="#1a1a1a" stroke="#1a1a1a" stroke-width="0.15">10</text>
<text x="80.40" y="284.10" font-size="8.4" text-anchor="start" fill="#1a1a1a" stroke="#1a1a1a" stroke-width="0.32" textLength="58.8" lengthAdjust="spacingAndGlyphs">Talquetamab (µg/mL)</text>
<text x="52.90" y="286.90" font-size="6.3" text-anchor="middle" fill="#1a1a1a" stroke="#1a1a1a" stroke-width="0.15" textLength="41.5" lengthAdjust="spacingAndGlyphs" transform="rotate(-90 52.90 286.90)">Solvent control</text>
<text x="140.70" y="241.10" font-size="5.4" text-anchor="start" fill="#1a1a1a" stroke="#1a1a1a" stroke-width="0.08"><tspan font-style="italic">P</tspan>&lt;0.0001</text>
<circle cx="52.60" cy="193.30" r="1.6" fill="#303a57"/>
<text x="57.00" y="195.30" font-size="5.9" text-anchor="start" fill="#1a1a1a" stroke="#1a1a1a" stroke-width="0.15" textLength="24.449390625" lengthAdjust="spacingAndGlyphs">No BMSC</text>
<circle cx="52.60" cy="202.30" r="1.6" fill="#5ea9e3"/>
<text x="57.00" y="204.30" font-size="5.9" text-anchor="start" fill="#1a1a1a" stroke="#1a1a1a" stroke-width="0.15" textLength="18.03621875" lengthAdjust="spacingAndGlyphs">Indirect</text>
<circle cx="52.60" cy="211.30" r="1.6" fill="#c7127f"/>
<text x="57.00" y="213.30" font-size="5.9" text-anchor="start" fill="#1a1a1a" stroke="#1a1a1a" stroke-width="0.15" textLength="14.362390625" lengthAdjust="spacingAndGlyphs">Direct</text>
<polyline points="50.60,245.30 80.00,225.20 103.20,207.30 126.20,207.70 149.10,208.80" fill="none" stroke="#303a57" stroke-width="1.0"/>
<circle cx="50.60" cy="245.30" r="1.5" fill="#303a57"/>
<path d="M80.50,222.50V228.00M79.00,222.50H82.00M79.00,228.00H82.00" stroke="#303a57" stroke-width="0.8" stroke-opacity="0.65" fill="none"/>
<circle cx="80.00" cy="225.20" r="1.4" fill="#303a57"/>
<path d="M103.50,205.00V209.20M102.00,205.00H105.00M102.00,209.20H105.00" stroke="#303a57" stroke-width="0.8" stroke-opacity="0.65" fill="none"/>
<circle cx="103.20" cy="207.30" r="1.4" fill="#303a57"/>
<circle cx="126.20" cy="207.70" r="1.4" fill="#303a57"/>
<path d="M149.50,207.50V210.00M148.00,207.50H151.00M148.00,210.00H151.00" stroke="#303a57" stroke-width="0.8" stroke-opacity="0.65" fill="none"/>
<circle cx="149.10" cy="208.80" r="1.4" fill="#303a57"/>
<polyline points="50.60,245.30 80.00,231.20 103.20,211.00 126.20,207.30 149.10,207.30" fill="none" stroke="#5ea9e3" stroke-width="1.0"/>
<circle cx="50.60" cy="245.30" r="1.5" fill="#5ea9e3"/>
<path d="M80.50,228.50V234.00M79.00,228.50H82.00M79.00,234.00H82.00" stroke="#5ea9e3" stroke-width="0.8" stroke-opacity="0.65" fill="none"/>
<circle cx="80.00" cy="231.20" r="1.4" fill="#5ea9e3"/>
<circle cx="103.20" cy="211.00" r="1.4" fill="#5ea9e3"/>
<circle cx="126.20" cy="207.30" r="1.4" fill="#5ea9e3"/>
<path d="M149.50,205.50V209.00M148.00,205.50H151.00M148.00,209.00H151.00" stroke="#5ea9e3" stroke-width="0.8" stroke-opacity="0.65" fill="none"/>
<circle cx="149.10" cy="207.30" r="1.4" fill="#5ea9e3"/>
<polyline points="50.60,245.30 80.00,243.00 103.20,237.80 126.20,235.80 149.10,230.70" fill="none" stroke="#c7127f" stroke-width="1.0"/>
<circle cx="50.60" cy="245.30" r="1.5" fill="#c7127f"/>
<path d="M80.50,241.80V244.20M79.00,241.80H82.00M79.00,244.20H82.00" stroke="#c7127f" stroke-width="0.8" stroke-opacity="0.65" fill="none"/>
<circle cx="80.00" cy="243.00" r="1.4" fill="#c7127f"/>
<path d="M103.50,234.00V241.00M102.00,234.00H105.00M102.00,241.00H105.00" stroke="#c7127f" stroke-width="0.8" stroke-opacity="0.65" fill="none"/>
<circle cx="103.20" cy="237.80" r="1.4" fill="#c7127f"/>
<path d="M126.50,232.40V239.10M125.00,232.40H128.00M125.00,239.10H128.00" stroke="#c7127f" stroke-width="0.8" stroke-opacity="0.65" fill="none"/>
<circle cx="126.20" cy="235.80" r="1.4" fill="#c7127f"/>
<path d="M149.50,225.80V235.10M148.00,225.80H151.00M148.00,235.10H151.00" stroke="#c7127f" stroke-width="0.8" stroke-opacity="0.65" fill="none"/>
<circle cx="149.10" cy="230.70" r="1.4" fill="#c7127f"/>
<path d="M46.00,245.00h1v1.0h-1zM48.08,245.00h1v1.0h-1zM50.16,245.00h1v1.0h-1zM52.24,245.00h1v1.0h-1zM54.32,245.00h1v1.0h-1zM56.40,245.00h1v1.0h-1zM58.48,245.00h1v1.0h-1zM60.56,245.00h1v1.0h-1zM62.64,245.00h1v1.0h-1zM64.72,245.00h1v1.0h-1zM66.80,245.00h1v1.0h-1zM68.88,245.00h1v1.0h-1zM70.96,245.00h1v1.0h-1zM73.04,245.00h1v1.0h-1zM75.12,245.00h1v1.0h-1zM77.20,245.00h1v1.0h-1zM79.28,245.00h1v1.0h-1zM81.36,245.00h1v1.0h-1zM83.44,245.00h1v1.0h-1zM85.52,245.00h1v1.0h-1zM87.60,245.00h1v1.0h-1zM89.68,245.00h1v1.0h-1zM91.76,245.00h1v1.0h-1zM93.84,245.00h1v1.0h-1zM95.92,245.00h1v1.0h-1zM98.00,245.00h1v1.0h-1zM100.08,245.00h1v1.0h-1zM102.16,245.00h1v1.0h-1zM104.24,245.00h1v1.0h-1zM106.32,245.00h1v1.0h-1zM108.40,245.00h1v1.0h-1zM110.48,245.00h1v1.0h-1zM112.56,245.00h1v1.0h-1zM114.64,245.00h1v1.0h-1zM116.72,245.00h1v1.0h-1zM118.80,245.00h1v1.0h-1zM120.88,245.00h1v1.0h-1zM122.96,245.00h1v1.0h-1zM125.04,245.00h1v1.0h-1zM127.12,245.00h1v1.0h-1zM129.20,245.00h1v1.0h-1zM131.28,245.00h1v1.0h-1zM133.36,245.00h1v1.0h-1zM135.44,245.00h1v1.0h-1zM137.52,245.00h1v1.0h-1zM139.60,245.00h1v1.0h-1zM141.68,245.00h1v1.0h-1zM143.76,245.00h1v1.0h-1zM145.84,245.00h1v1.0h-1zM147.92,245.00h1v1.0h-1zM150.00,245.00h1v1.0h-1zM152.08,245.00h1v1.0h-1zM154.16,245.00h1v1.0h-1zM156.24,245.00h1v1.0h-1zM158.32,245.00h1v1.0h-1zM160.40,245.00h1v1.0h-1zM162.48,245.00h1v1.0h-1zM164.56,245.00h1v1.0h-1z" fill="#777"/>
<rect x="57.50" y="230.30" width="1.70" height="29.00" fill="#fff"/>
<text x="269.10" y="187.90" font-size="6.4" text-anchor="middle" fill="#1a1a1a" stroke="#1a1a1a" stroke-width="0.15">MM.1S</text>
<line x1="208.50" y1="191.70" x2="208.50" y2="260.20" stroke="#111" stroke-width="1" />
<line x1="205.90" y1="245.10" x2="208.50" y2="245.10" stroke="#111" stroke-width="0.9" />
<text x="202.70" y="247.20" font-size="6.3" text-anchor="end" fill="#1a1a1a" stroke="#1a1a1a" stroke-width="0.15">0</text>
<line x1="205.90" y1="233.15" x2="208.50" y2="233.15" stroke="#111" stroke-width="0.9" />
<text x="202.70" y="235.25" font-size="6.3" text-anchor="end" fill="#1a1a1a" stroke="#1a1a1a" stroke-width="0.15">25</text>
<line x1="205.90" y1="221.20" x2="208.50" y2="221.20" stroke="#111" stroke-width="0.9" />
<text x="202.70" y="223.30" font-size="6.3" text-anchor="end" fill="#1a1a1a" stroke="#1a1a1a" stroke-width="0.15">50</text>
<line x1="205.90" y1="209.25" x2="208.50" y2="209.25" stroke="#111" stroke-width="0.9" />
<text x="202.70" y="211.35" font-size="6.3" text-anchor="end" fill="#1a1a1a" stroke="#1a1a1a" stroke-width="0.15">75</text>
<line x1="205.90" y1="197.30" x2="208.50" y2="197.30" stroke="#111" stroke-width="0.9" />
<text x="202.70" y="199.40" font-size="6.3" text-anchor="end" fill="#1a1a1a" stroke="#1a1a1a" stroke-width="0.15">100</text>
<text x="189.80" y="227.90" font-size="8.6" text-anchor="middle" fill="#1a1a1a" stroke="#1a1a1a" stroke-width="0.42" textLength="23.8" lengthAdjust="spacingAndGlyphs" transform="rotate(-90 189.80 227.90)">Lysis (%)</text>
<line x1="208.00" y1="259.70" x2="220.90" y2="259.70" stroke="#111" stroke-width="1" />
<line x1="223.40" y1="259.70" x2="330.10" y2="259.70" stroke="#111" stroke-width="1" />
<line x1="220.90" y1="258.20" x2="220.90" y2="261.20" stroke="#111" stroke-width="0.9" />
<line x1="223.40" y1="258.20" x2="223.40" y2="261.20" stroke="#111" stroke-width="0.9" />
<line x1="214.40" y1="259.70" x2="214.40" y2="262.70" stroke="#111" stroke-width="1.05" />
<line x1="226.60" y1="259.70" x2="226.60" y2="262.70" stroke="#111" stroke-width="1.05" />
<text x="226.60" y="271.60" font-size="6.2" text-anchor="middle" fill="#1a1a1a" stroke="#1a1a1a" stroke-width="0.15">0.01</text>
<line x1="251.65" y1="259.70" x2="251.65" y2="261.00" stroke="#111" stroke-width="0.7" />
<line x1="260.00" y1="259.70" x2="260.00" y2="262.70" stroke="#111" stroke-width="1.05" />
<text x="260.00" y="271.60" font-size="6.2" text-anchor="middle" fill="#1a1a1a" stroke="#1a1a1a" stroke-width="0.15">0.1</text>
<line x1="285.05" y1="259.70" x2="285.05" y2="261.00" stroke="#111" stroke-width="0.7" />
<line x1="293.40" y1="259.70" x2="293.40" y2="262.70" stroke="#111" stroke-width="1.05" />
<text x="293.40" y="271.60" font-size="6.2" text-anchor="middle" fill="#1a1a1a" stroke="#1a1a1a" stroke-width="0.15">1</text>
<line x1="318.45" y1="259.70" x2="318.45" y2="261.00" stroke="#111" stroke-width="0.7" />
<line x1="326.80" y1="259.70" x2="326.80" y2="262.70" stroke="#111" stroke-width="1.05" />
<text x="326.80" y="271.60" font-size="6.2" text-anchor="middle" fill="#1a1a1a" stroke="#1a1a1a" stroke-width="0.15">10</text>
<text x="244.20" y="283.90" font-size="8.4" text-anchor="start" fill="#1a1a1a" stroke="#1a1a1a" stroke-width="0.32" textLength="58.8" lengthAdjust="spacingAndGlyphs">Talquetamab (µg/mL)</text>
<text x="216.70" y="286.70" font-size="6.3" text-anchor="middle" fill="#1a1a1a" stroke="#1a1a1a" stroke-width="0.15" textLength="41.5" lengthAdjust="spacingAndGlyphs" transform="rotate(-90 216.70 286.70)">Solvent control</text>
<text x="305.10" y="240.90" font-size="5.4" text-anchor="start" fill="#1a1a1a" stroke="#1a1a1a" stroke-width="0.08"><tspan font-style="italic">P</tspan>=0.0003</text>
<circle cx="216.40" cy="190.40" r="1.6" fill="#303a57"/>
<text x="220.80" y="192.40" font-size="5.9" text-anchor="start" fill="#1a1a1a" stroke="#1a1a1a" stroke-width="0.15" textLength="24.449390625" lengthAdjust="spacingAndGlyphs">No BMSC</text>
<circle cx="216.40" cy="199.40" r="1.6" fill="#5ea9e3"/>
<text x="220.80" y="201.40" font-size="5.9" text-anchor="start" fill="#1a1a1a" stroke="#1a1a1a" stroke-width="0.15" textLength="18.03621875" lengthAdjust="spacingAndGlyphs">Indirect</text>
<circle cx="216.40" cy="208.40" r="1.6" fill="#c7127f"/>
<text x="220.80" y="210.40" font-size="5.9" text-anchor="start" fill="#1a1a1a" stroke="#1a1a1a" stroke-width="0.15" textLength="14.362390625" lengthAdjust="spacingAndGlyphs">Direct</text>
<polyline points="214.40,245.10 243.30,212.40 266.60,204.60 290.00,202.80 313.40,203.50" fill="none" stroke="#303a57" stroke-width="1.0"/>
<circle cx="214.40" cy="245.10" r="1.5" fill="#303a57"/>
<path d="M243.50,206.20V218.40M242.00,206.20H245.00M242.00,218.40H245.00" stroke="#303a57" stroke-width="0.8" stroke-opacity="0.65" fill="none"/>
<circle cx="243.30" cy="212.40" r="1.4" fill="#303a57"/>
<path d="M266.50,201.70V207.30M265.00,201.70H268.00M265.00,207.30H268.00" stroke="#303a57" stroke-width="0.8" stroke-opacity="0.65" fill="none"/>
<circle cx="266.60" cy="204.60" r="1.4" fill="#303a57"/>
<path d="M290.50,200.00V205.50M289.00,200.00H292.00M289.00,205.50H292.00" stroke="#303a57" stroke-width="0.8" stroke-opacity="0.65" fill="none"/>
<circle cx="290.00" cy="202.80" r="1.4" fill="#303a57"/>
<path d="M313.50,201.00V206.20M312.00,201.00H315.00M312.00,206.20H315.00" stroke="#303a57" stroke-width="0.8" stroke-opacity="0.65" fill="none"/>
<circle cx="313.40" cy="203.50" r="1.4" fill="#303a57"/>
<polyline points="214.40,245.10 243.30,216.80 266.60,209.50 290.00,205.70 313.40,206.80" fill="none" stroke="#5ea9e3" stroke-width="1.0"/>
<circle cx="214.40" cy="245.10" r="1.5" fill="#5ea9e3"/>
<path d="M243.50,208.40V222.90M242.00,208.40H245.00M242.00,222.90H245.00" stroke="#5ea9e3" stroke-width="0.8" stroke-opacity="0.65" fill="none"/>
<circle cx="243.30" cy="216.80" r="1.4" fill="#5ea9e3"/>
<path d="M266.50,206.20V212.80M265.00,206.20H268.00M265.00,212.80H268.00" stroke="#5ea9e3" stroke-width="0.8" stroke-opacity="0.65" fill="none"/>
<circle cx="266.60" cy="209.50" r="1.4" fill="#5ea9e3"/>
<path d="M290.50,202.80V208.40M289.00,202.80H292.00M289.00,208.40H292.00" stroke="#5ea9e3" stroke-width="0.8" stroke-opacity="0.65" fill="none"/>
<circle cx="290.00" cy="205.70" r="1.4" fill="#5ea9e3"/>
<path d="M313.50,204.50V209.00M312.00,204.50H315.00M312.00,209.00H315.00" stroke="#5ea9e3" stroke-width="0.8" stroke-opacity="0.65" fill="none"/>
<circle cx="313.40" cy="206.80" r="1.4" fill="#5ea9e3"/>
<polyline points="214.40,245.10 243.30,227.30 266.60,220.00 290.00,216.60 313.40,214.00" fill="none" stroke="#c7127f" stroke-width="1.0"/>
<circle cx="214.40" cy="245.10" r="1.5" fill="#c7127f"/>
<path d="M243.50,219.50V234.00M242.00,219.50H245.00M242.00,234.00H245.00" stroke="#c7127f" stroke-width="0.8" stroke-opacity="0.65" fill="none"/>
<circle cx="243.30" cy="227.30" r="1.4" fill="#c7127f"/>
<path d="M266.50,215.70V224.40M265.00,215.70H268.00M265.00,224.40H268.00" stroke="#c7127f" stroke-width="0.8" stroke-opacity="0.65" fill="none"/>
<circle cx="266.60" cy="220.00" r="1.4" fill="#c7127f"/>
<path d="M290.50,212.80V220.20M289.00,212.80H292.00M289.00,220.20H292.00" stroke="#c7127f" stroke-width="0.8" stroke-opacity="0.65" fill="none"/>
<circle cx="290.00" cy="216.60" r="1.4" fill="#c7127f"/>
<path d="M313.50,210.20V218.00M312.00,210.20H315.00M312.00,218.00H315.00" stroke="#c7127f" stroke-width="0.8" stroke-opacity="0.65" fill="none"/>
<circle cx="313.40" cy="214.00" r="1.4" fill="#c7127f"/>
<path d="M210.00,244.80h1v1.0h-1zM212.08,244.80h1v1.0h-1zM214.16,244.80h1v1.0h-1zM216.24,244.80h1v1.0h-1zM218.32,244.80h1v1.0h-1zM220.40,244.80h1v1.0h-1zM222.48,244.80h1v1.0h-1zM224.56,244.80h1v1.0h-1zM226.64,244.80h1v1.0h-1zM228.72,244.80h1v1.0h-1zM230.80,244.80h1v1.0h-1zM232.88,244.80h1v1.0h-1zM234.96,244.80h1v1.0h-1zM237.04,244.80h1v1.0h-1zM239.12,244.80h1v1.0h-1zM241.20,244.80h1v1.0h-1zM243.28,244.80h1v1.0h-1zM245.36,244.80h1v1.0h-1zM247.44,244.80h1v1.0h-1zM249.52,244.80h1v1.0h-1zM251.60,244.80h1v1.0h-1zM253.68,244.80h1v1.0h-1zM255.76,244.80h1v1.0h-1zM257.84,244.80h1v1.0h-1zM259.92,244.80h1v1.0h-1zM262.00,244.80h1v1.0h-1zM264.08,244.80h1v1.0h-1zM266.16,244.80h1v1.0h-1zM268.24,244.80h1v1.0h-1zM270.32,244.80h1v1.0h-1zM272.40,244.80h1v1.0h-1zM274.48,244.80h1v1.0h-1zM276.56,244.80h1v1.0h-1zM278.64,244.80h1v1.0h-1zM280.72,244.80h1v1.0h-1zM282.80,244.80h1v1.0h-1zM284.88,244.80h1v1.0h-1zM286.96,244.80h1v1.0h-1zM289.04,244.80h1v1.0h-1zM291.12,244.80h1v1.0h-1zM293.20,244.80h1v1.0h-1zM295.28,244.80h1v1.0h-1zM297.36,244.80h1v1.0h-1zM299.44,244.80h1v1.0h-1zM301.52,244.80h1v1.0h-1zM303.60,244.80h1v1.0h-1zM305.68,244.80h1v1.0h-1zM307.76,244.80h1v1.0h-1zM309.84,244.80h1v1.0h-1zM311.92,244.80h1v1.0h-1zM314.00,244.80h1v1.0h-1zM316.08,244.80h1v1.0h-1zM318.16,244.80h1v1.0h-1zM320.24,244.80h1v1.0h-1zM322.32,244.80h1v1.0h-1zM324.40,244.80h1v1.0h-1zM326.48,244.80h1v1.0h-1zM328.56,244.80h1v1.0h-1z" fill="#777"/>
<rect x="221.30" y="230.10" width="1.70" height="29.00" fill="#fff"/>
<text x="431.80" y="187.70" font-size="6.4" text-anchor="middle" fill="#1a1a1a" stroke="#1a1a1a" stroke-width="0.15">GPRC5D</text>
<line x1="391.10" y1="192.80" x2="391.10" y2="260.00" stroke="#111" stroke-width="1" />
<line x1="388.50" y1="259.50" x2="391.10" y2="259.50" stroke="#111" stroke-width="0.9" />
<text x="385.30" y="261.60" font-size="6.3" text-anchor="end" fill="#1a1a1a" stroke="#1a1a1a" stroke-width="0.15">0</text>
<line x1="388.50" y1="243.65" x2="391.10" y2="243.65" stroke="#111" stroke-width="0.9" />
<text x="385.30" y="245.75" font-size="6.3" text-anchor="end" fill="#1a1a1a" stroke="#1a1a1a" stroke-width="0.15">500</text>
<line x1="388.50" y1="227.80" x2="391.10" y2="227.80" stroke="#111" stroke-width="0.9" />
<text x="385.30" y="229.90" font-size="6.3" text-anchor="end" fill="#1a1a1a" stroke="#1a1a1a" stroke-width="0.15">1000</text>
<line x1="388.50" y1="211.95" x2="391.10" y2="211.95" stroke="#111" stroke-width="0.9" />
<text x="385.30" y="214.05" font-size="6.3" text-anchor="end" fill="#1a1a1a" stroke="#1a1a1a" stroke-width="0.15">1500</text>
<line x1="388.50" y1="196.10" x2="391.10" y2="196.10" stroke="#111" stroke-width="0.9" />
<text x="385.30" y="198.20" font-size="6.3" text-anchor="end" fill="#1a1a1a" stroke="#1a1a1a" stroke-width="0.15">2000</text>
<text x="364.60" y="226.15" font-size="7.6" text-anchor="middle" fill="#1a1a1a" stroke="#1a1a1a" stroke-width="0.4" textLength="38.8" lengthAdjust="spacingAndGlyphs" transform="rotate(-90 364.60 226.15)">GPRC5D (MFI)</text>
<line x1="390.60" y1="259.50" x2="472.40" y2="259.50" stroke="#111" stroke-width="1" />
<line x1="411.30" y1="259.50" x2="411.30" y2="262.50" stroke="#111" stroke-width="1.05" />
<text x="411.30" y="271.70" font-size="6.5" text-anchor="middle" fill="#1a1a1a" stroke="#1a1a1a" stroke-width="0.15">No BMSC</text>
<line x1="452.00" y1="259.50" x2="452.00" y2="262.50" stroke="#111" stroke-width="1.05" />
<text x="452.00" y="271.70" font-size="6.5" text-anchor="middle" fill="#1a1a1a" stroke="#1a1a1a" stroke-width="0.15">+ BMSC</text>
<line x1="411.30" y1="224.80" x2="452.00" y2="253.20" stroke="#b0b77a" stroke-width="0.9" />
<path d="M411.50,216.90V232.20M410.00,216.90H413.00M410.00,232.20H413.00" stroke="#b0b77a" stroke-width="0.8" stroke-opacity="0.65" fill="none"/>
<path d="M409.9,226.0 L412.7,226.0 L411.3,223.4 Z" fill="#b0b77a"/>
<path d="M450.6,254.4 L453.4,254.4 L452.0,251.8 Z" fill="#b0b77a"/>
<line x1="411.30" y1="221.40" x2="452.00" y2="243.20" stroke="#5ea9e3" stroke-width="0.9" />
<path d="M411.50,218.60V223.90M410.00,218.60H413.00M410.00,223.90H413.00" stroke="#5ea9e3" stroke-width="0.8" stroke-opacity="0.65" fill="none"/>
<path d="M452.50,240.40V246.60M451.00,240.40H454.00M451.00,246.60H454.00" stroke="#5ea9e3" stroke-width="0.8" stroke-opacity="0.65" fill="none"/>
<rect x="410.0" y="220.1" width="2.6" height="2.6" fill="#5ea9e3"/>
<rect x="450.7" y="241.9" width="2.6" height="2.6" fill="#5ea9e3"/>
<line x1="411.30" y1="206.40" x2="452.00" y2="203.00" stroke="#c7127f" stroke-width="0.9" />
<path d="M411.50,201.80V211.20M410.00,201.80H413.00M410.00,211.20H413.00" stroke="#c7127f" stroke-width="0.8" stroke-opacity="0.65" fill="none"/>
<path d="M452.50,199.50V206.00M451.00,199.50H454.00M451.00,206.00H454.00" stroke="#c7127f" stroke-width="0.8" stroke-opacity="0.65" fill="none"/>
<circle cx="411.30" cy="206.40" r="1.5" fill="#c7127f"/>
<circle cx="452.00" cy="203.00" r="1.5" fill="#c7127f"/>
<text x="457.00" y="205.30" font-size="5.4" text-anchor="start" fill="#1a1a1a" stroke="#1a1a1a" stroke-width="0.08"><tspan font-style="italic">P</tspan>=0.5745</text>
<text x="457.00" y="245.00" font-size="5.4" text-anchor="start" fill="#1a1a1a" stroke="#1a1a1a" stroke-width="0.08"><tspan font-style="italic">P</tspan>=0.0578</text>
<text x="457.00" y="256.00" font-size="5.4" text-anchor="start" fill="#1a1a1a" stroke="#1a1a1a" stroke-width="0.08"><tspan font-style="italic">P</tspan>=0.0566</text>
<circle cx="479.00" cy="212.80" r="1.5" fill="#c7127f"/>
<rect x="477.8" y="220.4" width="2.4" height="2.4" fill="#5ea9e3"/>
<path d="M477.6,232.0 L480.4,232.0 L479.0,229.4 Z" fill="#b0b77a"/>
<text x="483.50" y="214.80" font-size="5.9" text-anchor="start" fill="#1a1a1a" stroke="#1a1a1a" stroke-width="0.15" textLength="11.612390625" lengthAdjust="spacingAndGlyphs">UM9</text>
<text x="483.50" y="223.60" font-size="5.9" text-anchor="start" fill="#1a1a1a" stroke="#1a1a1a" stroke-width="0.15" textLength="17.418585937499998" lengthAdjust="spacingAndGlyphs">MM.1S</text>
<text x="483.50" y="232.80" font-size="5.9" text-anchor="start" fill="#1a1a1a" stroke="#1a1a1a" stroke-width="0.15" textLength="27.817109375" lengthAdjust="spacingAndGlyphs">RPMI-8226</text>
<rect x="0" y="0" width="520" height="1.05" fill="#000"/>
<rect x="0" y="0" width="1.15" height="314" fill="#000"/>
<rect x="518.6" y="0" width="1.4" height="314" fill="#000"/>
<rect x="0" y="312.6" width="520" height="1.4" fill="#000"/>
</svg></body></html>
